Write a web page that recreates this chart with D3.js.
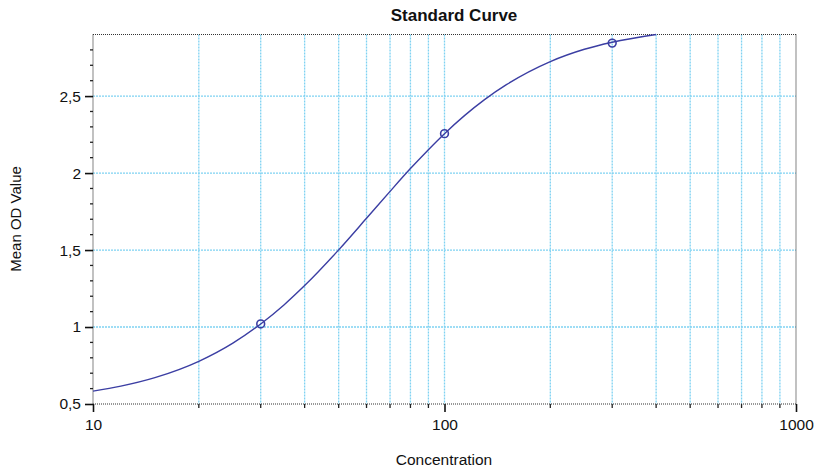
<!DOCTYPE html>
<html>
<head>
<meta charset="utf-8">
<script src="https://cdn.jsdelivr.net/npm/d3@7"></script>
<style>
  body { margin: 0; background: #fff; }
  text { font-family: Arial, "Liberation Sans", sans-serif; fill: #111; }
</style>
</head>
<body>
<div id="chart"></div>
<script>
// fitted curve
var curveConc = [10, 12, 15, 20, 25, 30, 35, 40, 50, 60, 70, 80, 90, 100, 130, 150, 200, 250, 300, 400];
var curveOD = [0.584, 0.616, 0.671, 0.777, 0.895, 1.02, 1.145, 1.269, 1.501, 1.706, 1.881, 2.029, 2.152, 2.256, 2.477, 2.574, 2.724, 2.804, 2.85, 2.9];

// standards
var stdConc = [30, 100, 300];
var stdOD = [1.02, 2.256, 2.844];

var xTicks = [10, 100, 1000];
var xMinor = [20, 30, 40, 50, 60, 70, 80, 90, 200, 300, 400, 500, 600, 700, 800, 900];
var yTicks = [0.5, 1, 1.5, 2, 2.5];
var yMinor = [0.6, 0.7, 0.8, 0.9, 1.1, 1.2, 1.3, 1.4, 1.6, 1.7, 1.8, 1.9, 2.1, 2.2, 2.3, 2.4, 2.6, 2.7, 2.8];

var svgWidth = 820;
var svgHeight = 470;

var margin = {
    top: 34.5,
    right: 24,
    bottom: 66,
    left: 93
};

var width = svgWidth - margin.left - margin.right;
var height = svgHeight - margin.top - margin.bottom;

var svg = d3.select("#chart")
    .append("svg")
    .attr("width", svgWidth)
    .attr("height", svgHeight);

var chartGroup = svg.append("g")
    .attr("transform", `translate(${margin.left}, ${margin.top})`);

var xScale = d3.scaleLog()
    .domain([10, 1000])
    .range([0, width]);

var yScale = d3.scaleLinear()
    .domain([0.5, 2.9])
    .range([height, 0]);

var gridColor = "#7fd2f2";

// vertical grid
chartGroup.append("g")
    .selectAll("line")
    .data(xMinor.concat([100]))
    .enter()
    .append("line")
    .attr("x1", d => xScale(d))
    .attr("x2", d => xScale(d))
    .attr("y1", 0)
    .attr("y2", height)
    .attr("stroke", gridColor)
    .attr("stroke-width", 1.3)
    .attr("stroke-dasharray", "2,1");

// horizontal grid
chartGroup.append("g")
    .selectAll("line")
    .data(yTicks.slice(1))
    .enter()
    .append("line")
    .attr("x1", 0)
    .attr("x2", width)
    .attr("y1", d => yScale(d))
    .attr("y2", d => yScale(d))
    .attr("stroke", gridColor)
    .attr("stroke-width", 1.3)
    .attr("stroke-dasharray", "2,1");

// frame (dotted)
var frame = [[0, 0, width, 0], [width, 0, width, height], [0, height, width, height], [0, 0, 0, height]];
chartGroup.append("g")
    .selectAll("line")
    .data(frame)
    .enter()
    .append("line")
    .attr("x1", d => d[0])
    .attr("y1", d => d[1])
    .attr("x2", d => d[2])
    .attr("y2", d => d[3])
    .attr("stroke", "#333")
    .attr("stroke-width", 1.2)
    .attr("stroke-dasharray", "1,1");

// axes
var bottomAxis = d3.axisBottom(xScale)
    .tickValues(xTicks)
    .tickFormat(d3.format("d"))
    .tickSize(8)
    .tickPadding(7);

var leftAxis = d3.axisLeft(yScale)
    .tickValues(yTicks)
    .tickFormat(d => String(d).replace(".", ","))
    .tickSize(8)
    .tickPadding(4);

var xAxisG = chartGroup.append("g")
    .attr("transform", `translate(0, ${height})`)
    .call(bottomAxis);

var yAxisG = chartGroup.append("g")
    .call(leftAxis);

[xAxisG, yAxisG].forEach(function (g) {
    g.select(".domain").remove();
    g.selectAll(".tick line").attr("stroke", "#111").attr("stroke-width", 1.6);
    g.selectAll(".tick text")
        .style("font-size", "15.5px")
        .style("font-family", "Arial, 'Liberation Sans', sans-serif")
        .attr("fill", "#111");
});

// minor ticks
chartGroup.append("g")
    .selectAll("line")
    .data(xMinor)
    .enter()
    .append("line")
    .attr("x1", d => xScale(d))
    .attr("x2", d => xScale(d))
    .attr("y1", height)
    .attr("y2", height + 4)
    .attr("stroke", "#222")
    .attr("stroke-width", 1.3);

chartGroup.append("g")
    .selectAll("line")
    .data(yMinor)
    .enter()
    .append("line")
    .attr("x1", -3)
    .attr("x2", 0)
    .attr("y1", d => yScale(d))
    .attr("y2", d => yScale(d))
    .attr("stroke", "#222")
    .attr("stroke-width", 1.3);

// curve
var line = d3.line()
    .x(d => xScale(d[0]))
    .y(d => yScale(d[1]))
    .curve(d3.curveMonotoneX);

chartGroup.append("path")
    .datum(d3.zip(curveConc, curveOD))
    .attr("d", line)
    .attr("fill", "none")
    .attr("stroke", "#3b3ea3")
    .attr("stroke-width", 1.4);

// standard points
chartGroup.selectAll("circle")
    .data(d3.zip(stdConc, stdOD))
    .enter()
    .append("circle")
    .attr("cx", d => xScale(d[0]))
    .attr("cy", d => yScale(d[1]))
    .attr("r", 3.9)
    .attr("fill", "none")
    .attr("stroke", "#3b3ea3")
    .attr("stroke-width", 1.6);

// title and labels
svg.append("text")
    .attr("x", 454)
    .attr("y", 21)
    .style("text-anchor", "middle")
    .style("font-size", "17px")
    .style("font-weight", "bold")
    .text("Standard Curve");

svg.append("text")
    .attr("x", 444)
    .attr("y", 465)
    .style("text-anchor", "middle")
    .style("font-size", "15.5px")
    .text("Concentration");

svg.append("text")
    .attr("transform", "translate(21, 219) rotate(-90)")
    .style("text-anchor", "middle")
    .style("font-size", "15px")
    .text("Mean OD Value");
</script>
</body>
</html>
